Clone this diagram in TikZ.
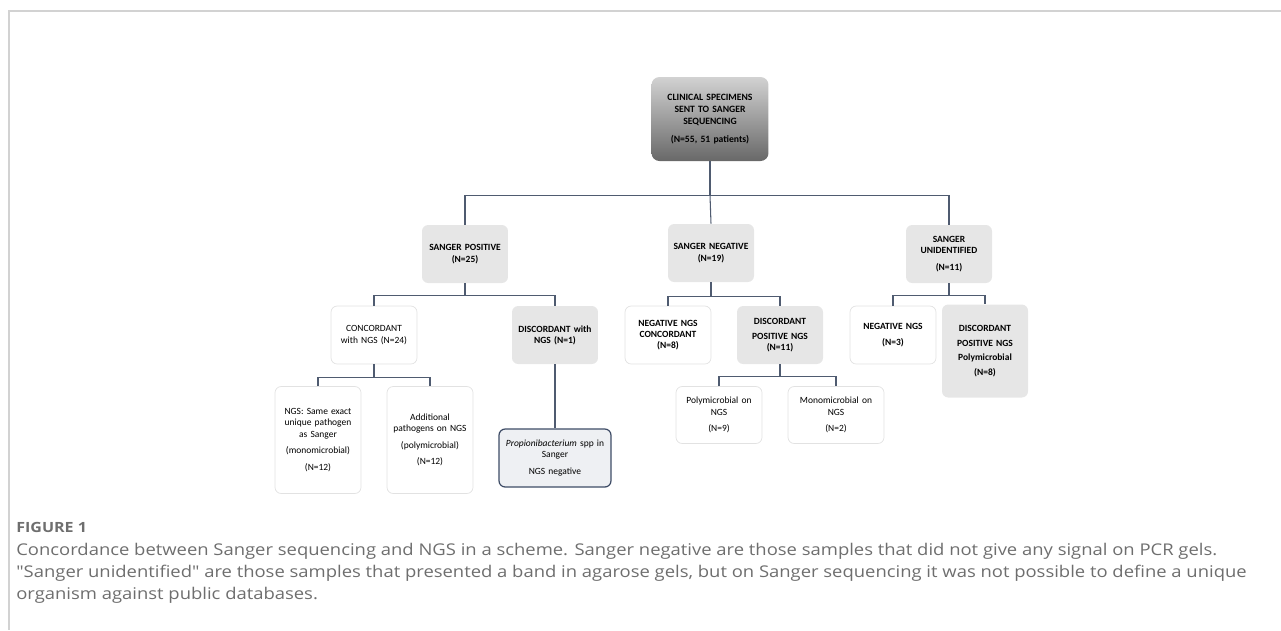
\documentclass[tikz,border=0pt]{standalone}
\usepackage{fontspec}
\setmainfont{Carlito}
\newfontfamily\captionfont[FakeStretch=1.14]{Open Sans}
\usetikzlibrary{positioning,calc}
\definecolor{linkblue}{HTML}{4F5B70}
\definecolor{boxgray}{HTML}{E6E6E6}
\definecolor{edgegray}{HTML}{E2E2E2}
\definecolor{propfill}{HTML}{EEF0F3}
\definecolor{propedge}{HTML}{3E4C66}
\definecolor{captiongray}{HTML}{6E6E6E}
\definecolor{framegray}{HTML}{D2D2D2}
\definecolor{spectop}{HTML}{D2D2D2}
\definecolor{specbottom}{HTML}{686868}

\begin{document}
\begin{tikzpicture}[x=0.02cm, y=-0.02cm,
    every node/.style={font=\fontsize{5.4}{6.4}\selectfont, align=center, inner sep=1pt},
    graybox/.style={fill=boxgray, rounded corners=3.5pt, minimum width=1.72cm, minimum height=1.16cm, text width=1.6cm},
    whitebox/.style={draw=edgegray, fill=white, rounded corners=3.5pt, minimum width=1.72cm, minimum height=1.16cm, text width=1.6cm},
    link/.style={draw=linkblue, line width=0.6pt}]
                \useasboundingbox (0,0) rectangle (1281,630);
                % Frame
                \draw[framegray, line width=0.9pt] (1281,11) -- (9,11) -- (9,630);

                % Top level
                \node[top color=spectop, bottom color=specbottom, rounded corners=4.5pt,
                      minimum width=2.34cm, minimum height=1.68cm, text width=2.2cm,
                      font=\fontsize{5.5}{7}\selectfont\bfseries] (spec) at (710,119)
                      {CLINICAL SPECIMENS\\SENT TO SANGER\\SEQUENCING\\[3pt](N=55, 51 patients)};

                % Sanger result
                \node[graybox, font=\fontsize{5.4}{6.4}\selectfont\bfseries] (pos) at (465,254) {SANGER POSITIVE\\(N=25)};
                \node[graybox, font=\fontsize{5.4}{6.4}\selectfont\bfseries] (neg) at (711,253) {SANGER NEGATIVE\\(N=19)};
                \node[graybox, font=\fontsize{5.4}{6.4}\selectfont\bfseries] (unid) at (949,254) {SANGER\\UNIDENTIFIED\\[3pt](N=11)};

                % NGS comparison
                \node[whitebox] (conc) at (374,335) {CONCORDANT\\with NGS (N=24)};
                \node[graybox, font=\fontsize{5.4}{6.4}\selectfont\bfseries] (disc1) at (555,335) {DISCORDANT with\\NGS (N=1)};
                \node[whitebox, font=\fontsize{5.4}{6.4}\selectfont\bfseries] (negc) at (668,335) {NEGATIVE NGS\\CONCORDANT\\(N=8)};
                \node[graybox, font=\fontsize{5.4}{6.4}\selectfont\bfseries] (disc11) at (780,335) {DISCORDANT\\[2pt]POSITIVE NGS\\(N=11)};
                \node[whitebox, font=\fontsize{5.4}{6.4}\selectfont\bfseries] (negngs) at (893,335) {NEGATIVE NGS\\[3pt](N=3)};
                \node[graybox, minimum height=1.86cm, font=\fontsize{5.4}{8.4}\selectfont\bfseries] (disc8) at (985,351)
                      {DISCORDANT\\POSITIVE NGS\\Polymicrobial\\(N=8)};

                % Detail level
                \node[whitebox, minimum height=2.14cm] (same) at (318,440)
                      {NGS: Same exact\\unique pathogen\\as Sanger\\[3pt](monomicrobial)\\[3pt](N=12)};
                \node[whitebox, minimum height=2.14cm] (addl) at (430,440)
                      {Additional\\pathogens on NGS\\[3pt](polymicrobial)\\[3pt](N=12)};
                \node[draw=propedge, fill=propfill, line width=0.7pt, rounded corners=3.5pt,
                      minimum width=2.24cm, minimum height=1.16cm, text width=2.1cm] (prop) at (555,458)
                      {\textit{Propionibacterium} spp in\\Sanger\\[3pt]NGS negative};
                \node[whitebox, minimum height=1.14cm] (poly) at (719,415) {Polymicrobial on\\NGS\\[3pt](N=9)};
                \node[whitebox, minimum width=1.92cm, minimum height=1.14cm] (mono) at (836,415) {Monomicrobial on\\NGS\\[3pt](N=2)};

                % Connectors
                \draw[link] (spec.south) -- ++(0,34) coordinate (busA);
                \draw[link] (pos.north) |- (busA) -| (unid.north);
                \draw[link] (busA) -- (neg.north);
                \draw[link] (pos.south) -- ++(0,12) coordinate (busB);
                \draw[link] (conc.north) |- (busB) -| (disc1.north);
                \draw[link] (neg.south) -- ++(0,14) coordinate (busC);
                \draw[link] (negc.north) |- (busC) -| (disc11.north);
                \draw[link] (unid.south) -- ++(0,12) coordinate (busD);
                \draw[link] (negngs.north) |- (busD) -| (disc8.north);
                \draw[link] (conc.south) -- ++(0,13) coordinate (busE);
                \draw[link] (same.north) |- (busE) -| (addl.north);
                \draw[link] (disc1.south) -- (prop.north);
                \draw[link] (disc11.south) -- ++(0,12) coordinate (busF);
                \draw[link] (poly.north) |- (busF) -| (mono.north);

                % Caption
                \node[anchor=west, inner sep=0, text=captiongray, font=\captionfont\fontsize{8}{10}\selectfont\bfseries] (figlabel) at (16,527) {FIGURE 1};
                \node[anchor=north west, align=left, inner sep=0, text=captiongray, font=\captionfont\fontsize{9.2}{12.5}\selectfont] (caption) at (16,543)
                      {Concordance between Sanger sequencing and NGS in a scheme. Sanger negative are those samples that did not give any signal on PCR gels.\\
                       "Sanger unidentified" are those samples that presented a band in agarose gels, but on Sanger sequencing it was not possible to define a unique\\
                       organism against public databases.};
            \end{tikzpicture}
\end{document}
